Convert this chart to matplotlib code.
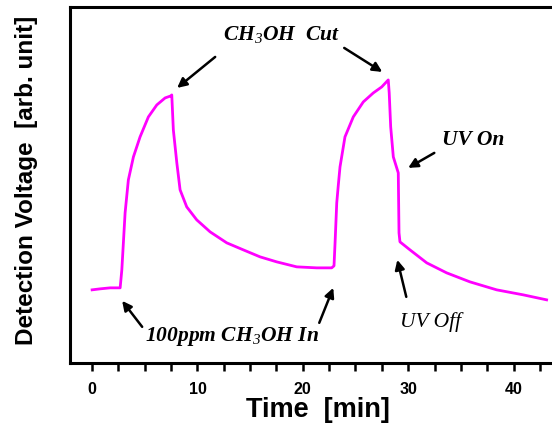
import numpy as np
import matplotlib
matplotlib.use("Agg")
import matplotlib.pyplot as plt

# mathtext subscripts in the annotations should look like Times italic
plt.rcParams['mathtext.fontset'] = 'custom'
plt.rcParams['mathtext.rm'] = 'Liberation Serif:italic'
plt.rcParams['mathtext.it'] = 'Liberation Serif:italic'

# data (time in min, detector signal in arb. units)
time = [0, 0.76, 1.71, 2.66, 2.82, 3.13, 3.44, 3.92, 4.55, 5.34, 6.14, 6.93,
        7.47, 7.56, 7.71, 8.04, 8.35, 8.98, 9.93, 11.2, 12.78, 14.35, 15.94,
        17.52, 19.42, 21.32, 22.74, 22.96, 23.06, 23.22, 23.37, 23.53, 24.0,
        24.79, 25.74, 26.69, 27.49, 28.11, 28.2, 28.34, 28.59, 29.06, 29.13,
        29.22, 30.17, 31.76, 33.65, 35.86, 38.4, 40.92, 43.14]
signal = [73, 74, 75, 75, 93, 150, 183, 206, 226, 246, 258, 265,
          267, 268, 233, 200, 173, 156, 143, 131, 120, 113, 106,
          101, 96, 95, 95, 97, 120, 160, 178, 196, 226,
          246, 261, 270, 276, 283, 270, 236, 206, 190, 130,
          121, 113, 100, 90, 81, 73, 68, 63]

xticks = [0, 10, 20, 30, 40]

fig = plt.figure(figsize=(5.52, 4.34), dpi=100)
ax = fig.add_axes([0.127, 0.164, 0.893, 0.820])

ax.plot(time, signal, color="#ff00ff", lw=2.0)

ax.set_xlim(-2.09, 44.7)
ax.set_ylim(0, 356)
ax.set_xticks(xticks)
ax.set_xticks(np.arange(0, 45, 2.5), minor=True)
ax.set_yticks([])
ax.spines['right'].set_visible(False)
for s in ['left', 'top', 'bottom']:
    ax.spines[s].set_linewidth(2.2)
ax.tick_params(axis='x', which='both', direction='out', width=1.8, length=6)
ax.tick_params(axis='x', which='major', pad=8)
for lab in ax.get_xticklabels():
    lab.set_fontfamily('Liberation Sans')
    lab.set_fontweight('bold')
    lab.set_fontsize(11.5)

ax.set_xlabel("Time  [min]", fontsize=19.5, fontweight='bold', family='Liberation Sans')
ax.xaxis.set_label_coords(0.503, -0.095)
ax.set_ylabel("Detection Voltage  [arb. unit]", fontsize=17.5, fontweight='bold',
              family='Liberation Sans')
ax.yaxis.set_label_coords(-0.065, 0.514)

# annotations
tfont = dict(family='Liberation Serif', style='italic', fontsize=15.5)
ax.text(18.0, 328, r"CH$_3$OH  Cut", ha='center', va='center', fontweight='bold', **tfont)
ax.text(36.2, 223, "UV On", ha='center', va='center', fontweight='bold', **tfont)
ax.text(32.1, 41, "UV Off", ha='center', va='center', **tfont)
ax.text(13.3, 26, r"100ppm CH$_3$OH In", ha='center', va='center', fontweight='bold', **tfont)

arrows = [((11.68, 306), (8.07, 275)),
          ((23.93, 315), (27.54, 291)),
          ((32.48, 210), (30.0, 195)),
          ((29.82, 66), (28.97, 103)),
          ((4.75, 36), (2.85, 62)),
          ((21.56, 40), (22.89, 75))]
for tail, head in arrows:
    ax.annotate("", xy=head, xytext=tail,
                arrowprops=dict(arrowstyle='-|>', color='black', lw=1.8,
                                mutation_scale=14, shrinkA=0, shrinkB=0))

fig.savefig("out.png", dpi=100)
